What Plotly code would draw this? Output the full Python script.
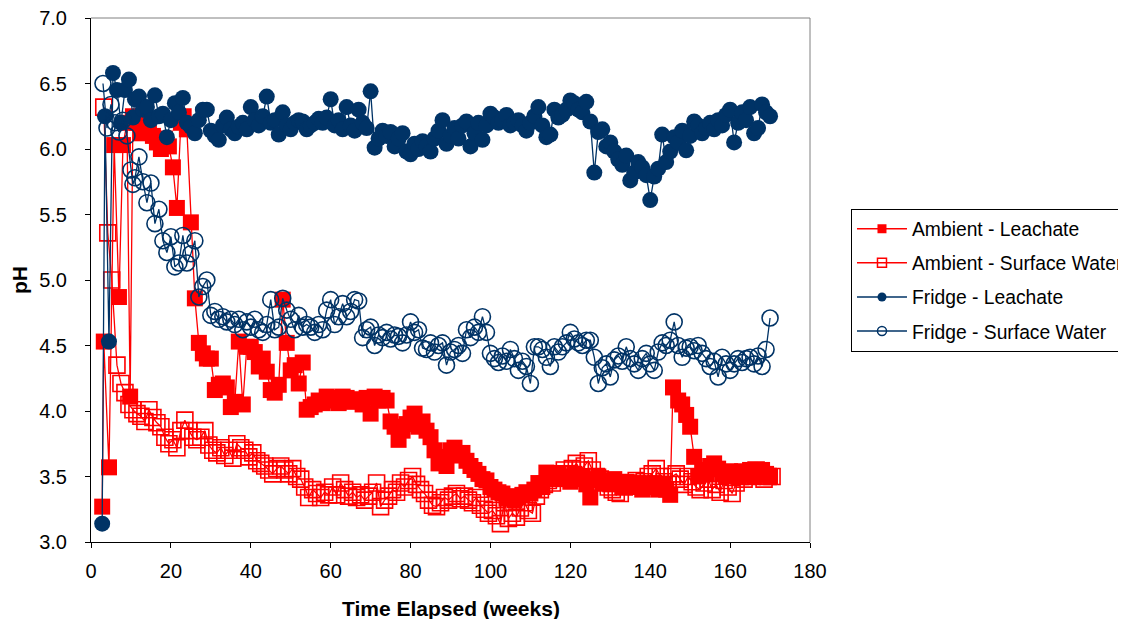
import plotly.graph_objects as go

# ---------------- data ----------------
amb_leach_x = [2.8, 3.2, 4.5, 5.8, 7, 8, 9, 9.8, 10.5, 11.5, 12.5, 13.5, 14.5, 15.5, 16.5, 17.5, 18.5, 19.5,
               20.5, 21.5, 22.5, 23.2, 24, 25, 26, 27, 28, 29, 30, 31, 32, 33, 34, 35, 36, 37, 38, 39, 40,
               41, 42, 43, 44, 45, 46, 47, 48, 49, 50, 51, 52, 53, 54, 55, 56, 57, 58, 59, 60, 61, 62, 63,
               64, 65, 66, 67, 68, 69, 70, 71, 72, 73, 74, 75, 76, 77, 78, 79, 80, 81, 82, 83, 84, 85, 86,
               87, 88, 89, 90, 91, 92, 93, 94, 95, 96, 97, 98, 99, 100, 101, 102, 103, 104, 105, 106, 107,
               108, 109, 110, 111, 112, 113, 114, 115, 116, 117, 118, 119, 120, 121, 122, 123, 124, 125,
               126, 127, 128, 129, 130, 131, 132, 133, 134, 135, 136, 137, 138, 139, 140, 141, 142, 143,
               144, 145, 145.7, 147, 148, 149, 150, 151, 152, 153, 154, 155, 156, 157, 158, 159, 160, 161,
               162, 163, 164, 165, 166, 167, 168, 169, 170]
amb_leach_y = [3.27, 4.53, 3.57, 6.03, 4.87, 6.03, 6.20, 4.11, 6.25, 6.20, 6.12, 6.22, 6.15, 6.10, 6.05, 6.00,
               6.08, 6.02, 5.86, 5.55, 6.20, 6.25, 6.15, 5.44, 4.86, 4.52, 4.44, 4.40, 4.40, 4.16, 4.20, 4.21,
               4.18, 4.03, 4.07, 4.53, 4.05, 4.49, 4.49, 4.45, 4.34, 4.40, 4.30, 4.16, 4.14, 4.20, 4.85, 4.52,
               4.31, 4.35, 4.21, 4.37, 4.01, 4.03, 4.05, 4.08, 4.06, 4.11, 4.08, 4.10, 4.06, 4.11, 4.10, 4.07,
               4.09, 4.08, 4.05, 4.10, 3.98, 4.11, 4.08, 4.10, 4.08, 3.92, 3.88, 3.78, 3.85, 3.90, 3.95, 3.98,
               3.88, 3.92, 3.85, 3.80, 3.70, 3.60, 3.65, 3.58, 3.70, 3.72, 3.66, 3.68, 3.62, 3.58, 3.55, 3.52,
               3.48, 3.47, 3.42, 3.40, 3.38, 3.37, 3.33, 3.35, 3.32, 3.34, 3.36, 3.38, 3.37, 3.40, 3.45, 3.42,
               3.53, 3.48, 3.50, 3.52, 3.48, 3.50, 3.46, 3.52, 3.48, 3.50, 3.44, 3.34, 3.48, 3.50, 3.45, 3.47,
               3.44, 3.48, 3.45, 3.42, 3.46, 3.44, 3.42, 3.45, 3.40, 3.44, 3.42, 3.45, 3.40, 3.44, 3.40, 3.36,
               4.18, 4.08, 4.05, 3.97, 3.88, 3.65, 3.50, 3.55, 3.52, 3.58, 3.60, 3.56, 3.52, 3.50, 3.54, 3.52,
               3.50, 3.54, 3.52, 3.55, 3.50, 3.53, 3.55, 3.52, 3.50, 3.53]

amb_surf_x = [3.2, 4.2, 5.2, 6.5, 7.5, 8.5, 9.5, 10.5, 11.5, 12.5, 13.5, 14.5, 15.5, 16.5, 17.5, 18.5, 19.5,
              20.5, 21.5, 22.5, 23.5, 24.5, 25.5, 26.5, 27.5, 28.5, 29.5, 30.5, 31.5, 32.5, 33.5, 34.5, 35.5,
              36.5, 37.5, 38.5, 39.5, 40.5, 41.5, 42.5, 43.5, 44.5, 45.5, 46.5, 47.5, 48.5, 49.5, 50.5, 51.5,
              52.5, 53.5, 54.5, 55.5, 56.5, 57.5, 58.5, 59.5, 60.5, 61.5, 62.5, 63.5, 64.5, 65.5, 66.5, 67.5,
              68.5, 69.5, 70.5, 71.5, 72.5, 73.5, 74.5, 75.5, 76.5, 77.5, 78.5, 79.5, 80.5, 81.5, 82.5, 83.5,
              84.5, 85.5, 86.5, 87.5, 88.5, 89.5, 90.5, 91.5, 92.5, 93.5, 94.5, 95.5, 96.5, 97.5, 98.5, 99.5,
              100.5, 101.5, 102.5, 103.5, 104.5, 105.5, 106.5, 107.5, 108.5, 109.5, 110.5, 111.5, 112.5,
              113.5, 114.5, 115.5, 116.5, 117.5, 118.5, 119.5, 120.5, 121.5, 122.5, 123.5, 124.5, 125.5,
              126.5, 127.5, 128.5, 129.5, 130.5, 131.5, 132.5, 133.5, 134.5, 135.5, 136.5, 137.5, 138.5,
              139.5, 140.5, 141.5, 142.5, 143.5, 144.5, 145.5, 146.5, 147.5, 148.5, 149.5, 150.5, 151.5,
              152.5, 153.5, 154.5, 155.5, 156.5, 157.5, 158.5, 159.5, 160.5, 161.5, 162.5, 163.5, 164.5,
              165.5, 166.5, 167.5, 168.5, 169.5, 170.5]
amb_surf_y = [6.32, 5.36, 5.00, 4.35, 4.21, 4.14, 4.05, 4.01, 3.98, 3.96, 3.92, 4.01, 3.95, 3.91, 3.88, 3.80,
              3.75, 3.78, 3.72, 3.85, 3.93, 3.85, 3.80, 3.78, 3.80, 3.85, 3.74, 3.70, 3.68, 3.72, 3.66, 3.70,
              3.64, 3.75, 3.72, 3.70, 3.65, 3.68, 3.62, 3.60, 3.58, 3.55, 3.52, 3.56, 3.58, 3.55, 3.52, 3.56,
              3.50, 3.48, 3.42, 3.34, 3.40, 3.37, 3.34, 3.38, 3.36, 3.42, 3.36, 3.45, 3.40, 3.35, 3.38, 3.34,
              3.36, 3.32, 3.35, 3.38, 3.45, 3.27, 3.32, 3.35, 3.40, 3.38, 3.45, 3.42, 3.47, 3.50, 3.44, 3.40,
              3.37, 3.32, 3.28, 3.27, 3.30, 3.34, 3.32, 3.35, 3.37, 3.33, 3.35, 3.32, 3.30, 3.34, 3.28, 3.25,
              3.22, 3.24, 3.20, 3.14, 3.30, 3.18, 3.22, 3.19, 3.26, 3.30, 3.24, 3.22, 3.35, 3.40, 3.44, 3.47,
              3.45, 3.50, 3.52, 3.55, 3.52, 3.56, 3.60, 3.55, 3.58, 3.62, 3.55, 3.50, 3.48, 3.45, 3.42, 3.40,
              3.38, 3.37, 3.42, 3.45, 3.43, 3.47, 3.44, 3.46, 3.50, 3.52, 3.56, 3.50, 3.46, 3.44, 3.50, 3.52,
              3.48, 3.44, 3.50, 3.46, 3.42, 3.40, 3.45, 3.48, 3.40, 3.44, 3.38, 3.47, 3.42, 3.37, 3.45, 3.50,
              3.48, 3.52, 3.50, 3.55, 3.52, 3.48, 3.50, 3.50]

fr_leach_x = [2.8, 3.5, 4.5, 5.5, 6.5, 7.5, 8.5, 9.5, 10.5, 11, 12, 13, 14, 15, 16, 17, 18, 19, 20, 21, 22, 23,
              24, 25, 26, 27, 28, 29, 30, 31, 32, 33, 34, 35, 36, 37, 38, 39, 40, 41, 42, 43, 44, 45, 46, 47,
              48, 49, 50, 51, 52, 53, 54, 55, 56, 57, 58, 59, 60, 61, 62, 63, 64, 65, 66, 67, 68, 69, 70, 71,
              72, 73, 74, 75, 76, 77, 78, 79, 80, 81, 82, 83, 84, 85, 86, 87, 88, 89, 90, 91, 92, 93, 94, 95,
              96, 97, 98, 99, 100, 101, 102, 103, 104, 105, 106, 107, 108, 109, 110, 111, 112, 113, 114, 115,
              116, 117, 118, 119, 120, 121, 122, 123, 124, 125, 126, 127, 128, 129, 130, 131, 132, 133, 134,
              135, 136, 137, 138, 139, 140, 141, 142, 143, 144, 145, 146, 147, 148, 149, 150, 151, 152, 153,
              154, 155, 156, 157, 158, 159, 160, 161, 162, 163, 164, 165, 166, 167, 168, 169, 170]
fr_leach_y = [3.14, 6.25, 4.53, 6.58, 6.45, 6.20, 6.45, 6.53, 6.24, 6.38, 6.40, 6.30, 6.32, 6.22, 6.41, 6.25,
              6.27, 6.09, 6.22, 6.35, 6.28, 6.39, 6.20, 6.17, 6.12, 6.22, 6.30, 6.30, 6.14, 6.10, 6.07, 6.18,
              6.24, 6.15, 6.12, 6.17, 6.20, 6.15, 6.32, 6.22, 6.18, 6.25, 6.40, 6.20, 6.22, 6.11, 6.28, 6.18,
              6.15, 6.20, 6.22, 6.21, 6.15, 6.18, 6.20, 6.23, 6.20, 6.24, 6.38, 6.18, 6.22, 6.15, 6.32, 6.18,
              6.14, 6.30, 6.20, 6.16, 6.44, 6.01, 6.08, 6.14, 6.10, 6.13, 6.02, 6.08, 6.12, 5.98, 5.96, 6.04,
              6.00, 6.06, 6.02, 5.98, 6.08, 6.14, 6.22, 6.04, 6.10, 6.16, 6.08, 6.18, 6.21, 6.02, 6.12, 6.20,
              6.07, 6.18, 6.27, 6.24, 6.20, 6.22, 6.26, 6.18, 6.20, 6.22, 6.18, 6.14, 6.20, 6.25, 6.32, 6.18,
              6.09, 6.11, 6.30, 6.24, 6.26, 6.30, 6.37, 6.35, 6.30, 6.28, 6.36, 6.21, 5.82, 6.13, 6.15, 6.02,
              6.05, 5.98, 5.92, 5.88, 5.95, 5.76, 5.82, 5.90, 5.86, 5.80, 5.61, 5.79, 5.85, 6.11, 5.90, 5.98,
              6.09, 6.05, 6.14, 5.99, 6.10, 6.21, 6.18, 6.12, 6.16, 6.20, 6.15, 6.22, 6.18, 6.26, 6.30, 6.05,
              6.20, 6.28, 6.22, 6.32, 6.12, 6.16, 6.34, 6.28, 6.25]

fr_surf_x = [3, 4, 5, 6, 7, 8, 9, 10, 10.5, 11, 12, 13, 14, 15, 16, 17, 18, 19, 20, 21, 22, 23, 24, 25, 26,
             27, 28, 29, 30, 31, 32, 33, 34, 35, 36, 37, 38, 39, 40, 41, 42, 43, 44, 45, 46, 47, 48, 49, 50,
             51, 52, 53, 54, 55, 56, 57, 58, 59, 60, 61, 62, 63, 64, 65, 66, 67, 68, 69, 70, 71, 72, 73, 74,
             75, 76, 77, 78, 79, 80, 81, 82, 83, 84, 85, 86, 87, 88, 89, 90, 91, 92, 93, 94, 95, 96, 97, 98,
             99, 100, 101, 102, 103, 104, 105, 106, 107, 108, 109, 110, 111, 112, 113, 114, 115, 116, 117,
             118, 119, 120, 121, 122, 123, 124, 125, 126, 127, 128, 129, 130, 131, 132, 133, 134, 135, 136,
             137, 138, 139, 140, 141, 142, 143, 144, 145, 146, 147, 148, 149, 150, 151, 152, 153, 154, 155,
             156, 157, 158, 159, 160, 161, 162, 163, 164, 165, 166, 167, 168, 169, 170]
fr_surf_y = [6.50, 6.16, 6.34, 6.20, 6.13, 6.22, 6.10, 5.84, 5.73, 5.78, 5.94, 5.75, 5.59, 5.74, 5.43, 5.54,
             5.30, 5.21, 5.33, 5.10, 5.13, 5.34, 5.13, 5.20, 5.30, 4.87, 4.95, 5.00, 4.73, 4.76, 4.70, 4.72,
             4.68, 4.70, 4.66, 4.70, 4.62, 4.68, 4.64, 4.70, 4.62, 4.60, 4.66, 4.85, 4.62, 4.64, 4.86, 4.77,
             4.70, 4.62, 4.73, 4.64, 4.66, 4.64, 4.60, 4.66, 4.62, 4.77, 4.85, 4.66, 4.72, 4.82, 4.72, 4.76,
             4.85, 4.84, 4.56, 4.62, 4.64, 4.50, 4.58, 4.56, 4.60, 4.55, 4.58, 4.57, 4.52, 4.58, 4.68, 4.60,
             4.62, 4.48, 4.47, 4.52, 4.45, 4.50, 4.52, 4.35, 4.45, 4.47, 4.50, 4.44, 4.62, 4.56, 4.64, 4.60,
             4.72, 4.60, 4.44, 4.40, 4.37, 4.42, 4.38, 4.47, 4.40, 4.31, 4.38, 4.34, 4.21, 4.49, 4.49, 4.47,
             4.41, 4.34, 4.49, 4.45, 4.49, 4.52, 4.60, 4.55, 4.52, 4.50, 4.54, 4.54, 4.41, 4.21, 4.33, 4.36,
             4.26, 4.39, 4.42, 4.38, 4.49, 4.40, 4.36, 4.31, 4.40, 4.44, 4.36, 4.31, 4.45, 4.52, 4.50, 4.54,
             4.68, 4.50, 4.41, 4.48, 4.49, 4.46, 4.50, 4.44, 4.40, 4.34, 4.38, 4.26, 4.41, 4.36, 4.31, 4.36,
             4.40, 4.37, 4.40, 4.41, 4.36, 4.42, 4.34, 4.47, 4.71]

series_names = ["Ambient - Leachate", "Ambient - Surface Water", "Fridge - Leachate", "Fridge - Surface Water"]
x_ticks = [0, 20, 40, 60, 80, 100, 120, 140, 160, 180]
y_ticks = [3.0, 3.5, 4.0, 4.5, 5.0, 5.5, 6.0, 6.5, 7.0]
x_title = "Time Elapsed (weeks)"
y_title = "pH"

RED = "#FF0000"
NAVY = "#003366"
FONT = "Liberation Sans, Arial, sans-serif"

styles = [
    dict(color=RED, symbol="square", fill=True),
    dict(color=RED, symbol="square-open", fill=False),
    dict(color=NAVY, symbol="circle", fill=True),
    dict(color=NAVY, symbol="circle-open", fill=False),
]
datasets = [(amb_leach_x, amb_leach_y), (amb_surf_x, amb_surf_y),
            (fr_leach_x, fr_leach_y), (fr_surf_x, fr_surf_y)]

fig = go.Figure()
for (xs, ys), name, st in zip(datasets, series_names, styles):
    fig.add_trace(go.Scatter(
        x=xs, y=ys, mode="lines+markers", name=name, showlegend=False,
        line=dict(color=st["color"], width=1.3),
        marker=dict(symbol=st["symbol"], size=16, color=st["color"],
                    line=dict(color=st["color"], width=1.6 if not st["fill"] else 0)),
    ))

# legend entries (smaller markers, as in the original)
for i, (name, st) in enumerate(zip(series_names, styles)):
    fig.add_trace(go.Scatter(
        x=[None], y=[None], mode="lines+markers", name=name, legendgroup=str(i),
        line=dict(color=st["color"], width=1.5),
        marker=dict(symbol=st["symbol"], size=9, color=st["color"],
                    line=dict(color=st["color"], width=1.5 if not st["fill"] else 0)),
    ))

fig.update_layout(
    width=1118, height=611,
    margin=dict(l=83, r=316, t=10, b=77, autoexpand=False),
    paper_bgcolor="white", plot_bgcolor="white",
    font=dict(family=FONT, size=20, color="black"),
    showlegend=True,
    legend=dict(
        x=1.057, y=0.636, xanchor="left", yanchor="top",
        bordercolor="black", borderwidth=1, bgcolor="white",
        font=dict(family=FONT, size=19.3), tracegroupgap=6,
        traceorder="grouped", itemwidth=50,
    ),
    xaxis=dict(
        range=[0, 180], tickvals=x_ticks, ticks="outside", ticklen=5, tickcolor="black",
        showline=True, linecolor="black", linewidth=1, showgrid=False, zeroline=False,
        tickfont=dict(size=20), ticklabelstandoff=6, ticklabeloverflow="allow",
    ),
    yaxis=dict(
        range=[3, 7], tickvals=y_ticks, tickformat=".1f", ticks="outside", ticklen=5,
        tickcolor="black", showline=True, linecolor="black", linewidth=1,
        showgrid=False, zeroline=False, tickfont=dict(size=20), ticklabelstandoff=14,
        ticklabeloverflow="allow",
    ),
    annotations=[
        dict(text="<b>" + x_title + "</b>", xref="paper", yref="paper", x=0.5, y=0,
             xanchor="center", yanchor="middle", yshift=-66, showarrow=False,
             font=dict(size=21)),
        dict(text="<b>" + y_title + "</b>", xref="paper", yref="paper", x=0, y=0.5,
             xanchor="center", yanchor="middle", xshift=-72, textangle=-90, showarrow=False,
             font=dict(size=21)),
    ],
    shapes=[
        dict(type="line", xref="paper", yref="paper", x0=0, x1=1, y0=1, y1=1,
             line=dict(color="#808080", width=1)),
        dict(type="line", xref="paper", yref="paper", x0=1, x1=1, y0=0, y1=1,
             line=dict(color="#808080", width=1)),
    ],
)

fig.write_html("out.html")
